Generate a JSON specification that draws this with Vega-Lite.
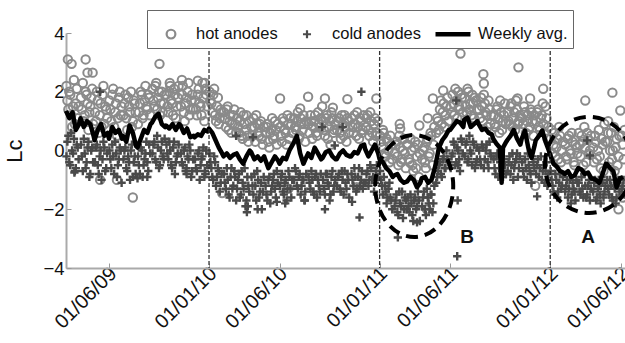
{
"$schema":"https://vega.github.io/schema/vega-lite/v6.json",
"width":559,"height":235,
"autosize":"none",
"padding":{"left":66,"top":33,"right":0,"bottom":75},
"background":"white",
"config":{"font":"Liberation Sans","view":{"stroke":null}},
"datasets":{
"hot":[
{"d":"2009-03-02","v":2.2},{"d":"2009-03-06","v":1.4},{"d":"2009-03-10","v":1.9},{"d":"2009-03-14","v":0.8},{"d":"2009-03-18","v":2.4},{"d":"2009-03-22","v":1.6},{"d":"2009-03-26","v":1.1},
{"d":"2009-04-02","v":1.8},{"d":"2009-04-06","v":2.3},{"d":"2009-04-10","v":1.2},{"d":"2009-04-14","v":1.9},{"d":"2009-04-18","v":0.7},{"d":"2009-04-22","v":1.5},{"d":"2009-04-26","v":2.1},
{"d":"2009-05-02","v":1.3},{"d":"2009-05-06","v":2.0},{"d":"2009-05-10","v":0.6},{"d":"2009-05-14","v":1.6},{"d":"2009-05-18","v":1.9},{"d":"2009-05-22","v":0.9},{"d":"2009-05-26","v":1.4},
{"d":"2009-06-02","v":1.7},{"d":"2009-06-06","v":1.0},{"d":"2009-06-10","v":2.1},{"d":"2009-06-14","v":1.3},{"d":"2009-06-18","v":0.5},{"d":"2009-06-22","v":1.8},{"d":"2009-06-26","v":1.2},
{"d":"2009-07-02","v":1.2},{"d":"2009-07-06","v":1.9},{"d":"2009-07-10","v":0.7},{"d":"2009-07-14","v":1.5},{"d":"2009-07-18","v":2.0},{"d":"2009-07-22","v":1.0},{"d":"2009-07-26","v":1.6},
{"d":"2009-08-02","v":0.9},{"d":"2009-08-06","v":1.6},{"d":"2009-08-10","v":1.9},{"d":"2009-08-14","v":1.2},{"d":"2009-08-18","v":2.2},{"d":"2009-08-22","v":1.4},{"d":"2009-08-26","v":1.8},
{"d":"2009-09-02","v":2.1},{"d":"2009-09-06","v":1.5},{"d":"2009-09-10","v":2.3},{"d":"2009-09-14","v":1.8},{"d":"2009-09-18","v":1.2},{"d":"2009-09-22","v":2.0},{"d":"2009-09-26","v":1.6},
{"d":"2009-10-02","v":1.9},{"d":"2009-10-06","v":1.3},{"d":"2009-10-10","v":2.2},{"d":"2009-10-14","v":1.6},{"d":"2009-10-18","v":2.1},{"d":"2009-10-22","v":1.1},{"d":"2009-10-26","v":1.8},
{"d":"2009-11-02","v":1.5},{"d":"2009-11-06","v":2.2},{"d":"2009-11-10","v":1.0},{"d":"2009-11-14","v":1.8},{"d":"2009-11-18","v":2.3},{"d":"2009-11-22","v":1.4},{"d":"2009-11-26","v":1.9},
{"d":"2009-12-02","v":1.7},{"d":"2009-12-06","v":1.2},{"d":"2009-12-10","v":2.1},{"d":"2009-12-14","v":1.5},{"d":"2009-12-18","v":2.3},{"d":"2009-12-22","v":1.0},{"d":"2009-12-26","v":1.9},
{"d":"2010-01-02","v":2.0},{"d":"2010-01-06","v":1.6},{"d":"2010-01-10","v":1.9},{"d":"2010-01-14","v":1.2},{"d":"2010-01-18","v":1.5},{"d":"2010-01-22","v":0.9},{"d":"2010-01-26","v":1.4},
{"d":"2010-02-02","v":1.3},{"d":"2010-02-06","v":0.8},{"d":"2010-02-10","v":1.5},{"d":"2010-02-14","v":1.0},{"d":"2010-02-18","v":0.6},{"d":"2010-02-22","v":1.2},{"d":"2010-02-26","v":0.9},
{"d":"2010-03-02","v":1.1},{"d":"2010-03-06","v":0.6},{"d":"2010-03-10","v":1.3},{"d":"2010-03-14","v":0.4},{"d":"2010-03-18","v":0.9},{"d":"2010-03-22","v":1.2},{"d":"2010-03-26","v":0.3},
{"d":"2010-04-02","v":0.8},{"d":"2010-04-06","v":1.1},{"d":"2010-04-10","v":0.3},{"d":"2010-04-14","v":0.9},{"d":"2010-04-18","v":0.5},{"d":"2010-04-22","v":1.0},{"d":"2010-04-26","v":0.2},
{"d":"2010-05-02","v":0.6},{"d":"2010-05-06","v":0.9},{"d":"2010-05-10","v":0.1},{"d":"2010-05-14","v":0.7},{"d":"2010-05-18","v":0.4},{"d":"2010-05-22","v":1.0},{"d":"2010-05-26","v":0.2},
{"d":"2010-06-02","v":0.8},{"d":"2010-06-06","v":0.3},{"d":"2010-06-10","v":1.0},{"d":"2010-06-14","v":0.6},{"d":"2010-06-18","v":1.2},{"d":"2010-06-22","v":0.4},{"d":"2010-06-26","v":0.9},
{"d":"2010-07-02","v":1.1},{"d":"2010-07-06","v":0.7},{"d":"2010-07-10","v":1.3},{"d":"2010-07-14","v":0.5},{"d":"2010-07-18","v":0.9},{"d":"2010-07-22","v":1.2},{"d":"2010-07-26","v":0.3},
{"d":"2010-08-02","v":0.9},{"d":"2010-08-06","v":1.2},{"d":"2010-08-10","v":0.4},{"d":"2010-08-14","v":1.0},{"d":"2010-08-18","v":0.6},{"d":"2010-08-22","v":1.3},{"d":"2010-08-26","v":0.8},
{"d":"2010-09-02","v":1.0},{"d":"2010-09-06","v":0.5},{"d":"2010-09-10","v":1.2},{"d":"2010-09-14","v":0.8},{"d":"2010-09-18","v":0.2},{"d":"2010-09-22","v":1.1},{"d":"2010-09-26","v":0.7},
{"d":"2010-10-02","v":0.7},{"d":"2010-10-06","v":1.1},{"d":"2010-10-10","v":0.4},{"d":"2010-10-14","v":0.9},{"d":"2010-10-18","v":1.2},{"d":"2010-10-22","v":0.3},{"d":"2010-10-26","v":1.0},
{"d":"2010-11-02","v":1.1},{"d":"2010-11-06","v":0.6},{"d":"2010-11-10","v":0.9},{"d":"2010-11-14","v":1.3},{"d":"2010-11-18","v":0.4},{"d":"2010-11-22","v":1.0},{"d":"2010-11-26","v":0.7},
{"d":"2010-12-02","v":0.8},{"d":"2010-12-06","v":1.2},{"d":"2010-12-10","v":0.5},{"d":"2010-12-14","v":1.0},{"d":"2010-12-18","v":0.3},{"d":"2010-12-22","v":1.1},{"d":"2010-12-26","v":0.6},
{"d":"2011-01-02","v":0.5},{"d":"2011-01-06","v":0.1},{"d":"2011-01-10","v":0.6},{"d":"2011-01-14","v":-0.2},{"d":"2011-01-18","v":0.3},{"d":"2011-01-22","v":-0.4},{"d":"2011-01-26","v":0.2},
{"d":"2011-02-02","v":-0.1},{"d":"2011-02-06","v":0.3},{"d":"2011-02-10","v":-0.5},{"d":"2011-02-14","v":0.1},{"d":"2011-02-18","v":-0.3},{"d":"2011-02-22","v":0.4},{"d":"2011-02-26","v":-0.6},
{"d":"2011-03-02","v":0.2},{"d":"2011-03-06","v":-0.4},{"d":"2011-03-10","v":0.0},{"d":"2011-03-14","v":-0.7},{"d":"2011-03-18","v":0.3},{"d":"2011-03-22","v":-0.2},{"d":"2011-03-26","v":-0.9},
{"d":"2011-04-02","v":-0.3},{"d":"2011-04-06","v":0.1},{"d":"2011-04-10","v":-0.6},{"d":"2011-04-14","v":0.4},{"d":"2011-04-18","v":-0.1},{"d":"2011-04-22","v":0.5},{"d":"2011-04-26","v":0.2},
{"d":"2011-05-02","v":0.6},{"d":"2011-05-06","v":1.0},{"d":"2011-05-10","v":1.4},{"d":"2011-05-14","v":0.9},{"d":"2011-05-18","v":1.6},{"d":"2011-05-22","v":1.2},{"d":"2011-05-26","v":1.8},
{"d":"2011-06-02","v":1.5},{"d":"2011-06-06","v":1.9},{"d":"2011-06-10","v":1.2},{"d":"2011-06-14","v":1.7},{"d":"2011-06-18","v":2.0},{"d":"2011-06-22","v":1.4},{"d":"2011-06-26","v":1.8},
{"d":"2011-07-02","v":1.8},{"d":"2011-07-06","v":1.3},{"d":"2011-07-10","v":2.0},{"d":"2011-07-14","v":1.6},{"d":"2011-07-18","v":1.9},{"d":"2011-07-22","v":1.1},{"d":"2011-07-26","v":1.7},
{"d":"2011-08-02","v":1.4},{"d":"2011-08-06","v":1.8},{"d":"2011-08-10","v":1.0},{"d":"2011-08-14","v":1.6},{"d":"2011-08-18","v":1.2},{"d":"2011-08-22","v":1.7},{"d":"2011-08-26","v":0.9},
{"d":"2011-09-02","v":1.2},{"d":"2011-09-06","v":0.8},{"d":"2011-09-10","v":1.5},{"d":"2011-09-14","v":0.6},{"d":"2011-09-18","v":1.3},{"d":"2011-09-22","v":1.0},{"d":"2011-09-26","v":1.6},
{"d":"2011-10-02","v":1.3},{"d":"2011-10-06","v":0.9},{"d":"2011-10-10","v":1.6},{"d":"2011-10-14","v":1.1},{"d":"2011-10-18","v":0.7},{"d":"2011-10-22","v":1.4},{"d":"2011-10-26","v":1.0},
{"d":"2011-11-02","v":1.1},{"d":"2011-11-06","v":1.5},{"d":"2011-11-10","v":0.6},{"d":"2011-11-14","v":1.2},{"d":"2011-11-18","v":0.8},{"d":"2011-11-22","v":1.3},{"d":"2011-11-26","v":0.5},
{"d":"2011-12-02","v":1.0},{"d":"2011-12-06","v":1.4},{"d":"2011-12-10","v":0.7},{"d":"2011-12-14","v":1.2},{"d":"2011-12-18","v":0.9},{"d":"2011-12-22","v":1.5},{"d":"2011-12-26","v":0.4},
{"d":"2012-01-02","v":0.4},{"d":"2012-01-06","v":-0.1},{"d":"2012-01-10","v":0.6},{"d":"2012-01-14","v":0.1},{"d":"2012-01-18","v":-0.3},{"d":"2012-01-22","v":0.5},{"d":"2012-01-26","v":0.0},
{"d":"2012-02-02","v":0.2},{"d":"2012-02-06","v":-0.3},{"d":"2012-02-10","v":0.5},{"d":"2012-02-14","v":-0.1},{"d":"2012-02-18","v":0.3},{"d":"2012-02-22","v":-0.5},{"d":"2012-02-26","v":0.1},
{"d":"2012-03-02","v":0.6},{"d":"2012-03-06","v":-0.2},{"d":"2012-03-10","v":0.3},{"d":"2012-03-14","v":0.8},{"d":"2012-03-18","v":-0.4},{"d":"2012-03-22","v":0.4},{"d":"2012-03-26","v":0.0},
{"d":"2012-04-02","v":0.1},{"d":"2012-04-06","v":0.5},{"d":"2012-04-10","v":-0.3},{"d":"2012-04-14","v":0.7},{"d":"2012-04-18","v":-0.6},{"d":"2012-04-22","v":0.2},{"d":"2012-04-26","v":0.9},
{"d":"2012-05-02","v":0.3},{"d":"2012-05-06","v":-0.4},{"d":"2012-05-10","v":0.6},{"d":"2012-05-14","v":0.0},{"d":"2012-05-18","v":-0.7},{"d":"2012-05-22","v":0.4},{"d":"2012-05-26","v":-0.2},
{"d":"2012-06-02","v":0.5},{"d":"2012-06-06","v":-0.3},
{"d":"2009-03-04","v":1.7},{"d":"2009-03-08","v":2.0},{"d":"2009-03-12","v":1.2},{"d":"2009-03-16","v":1.5},{"d":"2009-03-20","v":0.9},{"d":"2009-03-24","v":2.1},{"d":"2009-03-28","v":1.5},
{"d":"2009-04-04","v":1.4},{"d":"2009-04-08","v":1.0},{"d":"2009-04-12","v":2.0},{"d":"2009-04-16","v":1.6},{"d":"2009-04-20","v":1.3},{"d":"2009-04-24","v":1.8},{"d":"2009-04-28","v":0.9},
{"d":"2009-05-04","v":1.0},{"d":"2009-05-08","v":1.7},{"d":"2009-05-12","v":1.2},{"d":"2009-05-16","v":0.8},{"d":"2009-05-20","v":2.2},{"d":"2009-05-24","v":1.5},{"d":"2009-05-28","v":1.1},
{"d":"2009-06-04","v":1.4},{"d":"2009-06-08","v":1.9},{"d":"2009-06-12","v":0.8},{"d":"2009-06-16","v":1.6},{"d":"2009-06-20","v":1.1},{"d":"2009-06-24","v":2.0},{"d":"2009-06-28","v":1.5},
{"d":"2009-07-04","v":1.6},{"d":"2009-07-08","v":1.1},{"d":"2009-07-12","v":1.8},{"d":"2009-07-16","v":1.3},{"d":"2009-07-20","v":0.8},{"d":"2009-07-24","v":1.7},{"d":"2009-07-28","v":1.3},
{"d":"2009-08-04","v":1.3},{"d":"2009-08-08","v":2.0},{"d":"2009-08-12","v":1.1},{"d":"2009-08-16","v":1.7},{"d":"2009-08-20","v":1.5},{"d":"2009-08-24","v":1.9},{"d":"2009-08-28","v":1.2},
{"d":"2009-09-04","v":1.7},{"d":"2009-09-08","v":2.2},{"d":"2009-09-12","v":1.4},{"d":"2009-09-16","v":2.0},{"d":"2009-09-20","v":1.6},{"d":"2009-09-24","v":1.3},{"d":"2009-09-28","v":1.9},
{"d":"2009-10-04","v":1.5},{"d":"2009-10-08","v":2.0},{"d":"2009-10-12","v":1.7},{"d":"2009-10-16","v":1.2},{"d":"2009-10-20","v":1.9},{"d":"2009-10-24","v":1.5},{"d":"2009-10-28","v":2.2},
{"d":"2009-11-04","v":1.9},{"d":"2009-11-08","v":1.3},{"d":"2009-11-12","v":1.6},{"d":"2009-11-16","v":2.0},{"d":"2009-11-20","v":1.2},{"d":"2009-11-24","v":1.7},{"d":"2009-11-28","v":1.4},
{"d":"2009-12-04","v":1.4},{"d":"2009-12-08","v":1.9},{"d":"2009-12-12","v":1.6},{"d":"2009-12-16","v":1.2},{"d":"2009-12-20","v":1.8},{"d":"2009-12-24","v":2.1},{"d":"2009-12-28","v":1.5},
{"d":"2010-01-04","v":1.7},{"d":"2010-01-08","v":1.3},{"d":"2010-01-12","v":2.1},{"d":"2010-01-16","v":1.0},{"d":"2010-01-20","v":1.8},{"d":"2010-01-24","v":1.1},{"d":"2010-01-28","v":1.3},
{"d":"2010-02-04","v":1.1},{"d":"2010-02-08","v":1.4},{"d":"2010-02-12","v":0.7},{"d":"2010-02-16","v":1.2},{"d":"2010-02-20","v":0.9},{"d":"2010-02-24","v":1.4},{"d":"2010-02-28","v":0.6},
{"d":"2010-03-04","v":0.8},{"d":"2010-03-08","v":1.0},{"d":"2010-03-12","v":0.5},{"d":"2010-03-16","v":1.2},{"d":"2010-03-20","v":0.7},{"d":"2010-03-24","v":0.5},{"d":"2010-03-28","v":1.0},
{"d":"2010-04-04","v":0.5},{"d":"2010-04-08","v":0.8},{"d":"2010-04-12","v":1.2},{"d":"2010-04-16","v":0.6},{"d":"2010-04-20","v":0.9},{"d":"2010-04-24","v":0.4},{"d":"2010-04-28","v":0.8},
{"d":"2010-05-04","v":0.8},{"d":"2010-05-08","v":0.3},{"d":"2010-05-12","v":0.6},{"d":"2010-05-16","v":1.1},{"d":"2010-05-20","v":0.5},{"d":"2010-05-24","v":0.7},{"d":"2010-05-28","v":0.9},
{"d":"2010-06-04","v":0.5},{"d":"2010-06-08","v":1.1},{"d":"2010-06-12","v":0.7},{"d":"2010-06-16","v":0.2},{"d":"2010-06-20","v":0.9},{"d":"2010-06-24","v":1.1},{"d":"2010-06-28","v":0.6},
{"d":"2010-07-04","v":0.8},{"d":"2010-07-08","v":1.0},{"d":"2010-07-12","v":0.4},{"d":"2010-07-16","v":1.1},{"d":"2010-07-20","v":0.7},{"d":"2010-07-24","v":0.9},{"d":"2010-07-28","v":1.0},
{"d":"2010-08-04","v":0.6},{"d":"2010-08-08","v":1.0},{"d":"2010-08-12","v":0.8},{"d":"2010-08-16","v":1.2},{"d":"2010-08-20","v":0.5},{"d":"2010-08-24","v":0.9},{"d":"2010-08-28","v":1.1},
{"d":"2010-09-04","v":0.7},{"d":"2010-09-08","v":1.1},{"d":"2010-09-12","v":0.4},{"d":"2010-09-16","v":1.0},{"d":"2010-09-20","v":1.3},{"d":"2010-09-24","v":0.6},{"d":"2010-09-28","v":0.9},
{"d":"2010-10-04","v":1.0},{"d":"2010-10-08","v":0.6},{"d":"2010-10-12","v":1.2},{"d":"2010-10-16","v":0.5},{"d":"2010-10-20","v":0.8},{"d":"2010-10-24","v":1.1},{"d":"2010-10-28","v":0.6},
{"d":"2010-11-04","v":0.8},{"d":"2010-11-08","v":1.2},{"d":"2010-11-12","v":0.5},{"d":"2010-11-16","v":0.8},{"d":"2010-11-20","v":1.1},{"d":"2010-11-24","v":0.6},{"d":"2010-11-28","v":1.2},
{"d":"2010-12-04","v":1.1},{"d":"2010-12-08","v":0.7},{"d":"2010-12-12","v":1.3},{"d":"2010-12-16","v":0.6},{"d":"2010-12-20","v":0.9},{"d":"2010-12-24","v":0.5},{"d":"2010-12-28","v":1.0},
{"d":"2011-01-04","v":0.3},{"d":"2011-01-08","v":0.7},{"d":"2011-01-12","v":-0.1},{"d":"2011-01-16","v":0.4},{"d":"2011-01-20","v":0.0},{"d":"2011-01-24","v":0.5},{"d":"2011-01-28","v":-0.3},
{"d":"2011-02-04","v":0.2},{"d":"2011-02-08","v":-0.2},{"d":"2011-02-12","v":0.5},{"d":"2011-02-16","v":-0.4},{"d":"2011-02-20","v":0.0},{"d":"2011-02-24","v":-0.1},{"d":"2011-02-28","v":0.2},
{"d":"2011-03-04","v":-0.3},{"d":"2011-03-08","v":0.4},{"d":"2011-03-12","v":-0.5},{"d":"2011-03-16","v":0.1},{"d":"2011-03-20","v":-0.6},{"d":"2011-03-24","v":0.2},{"d":"2011-03-28","v":-0.1},
{"d":"2011-04-04","v":0.0},{"d":"2011-04-08","v":-0.4},{"d":"2011-04-12","v":0.3},{"d":"2011-04-16","v":-0.2},{"d":"2011-04-20","v":0.6},{"d":"2011-04-24","v":-0.5},{"d":"2011-04-28","v":0.8},
{"d":"2011-05-04","v":1.1},{"d":"2011-05-08","v":0.7},{"d":"2011-05-12","v":1.7},{"d":"2011-05-16","v":1.3},{"d":"2011-05-20","v":0.8},{"d":"2011-05-24","v":1.5},{"d":"2011-05-28","v":1.0},
{"d":"2011-06-04","v":1.3},{"d":"2011-06-08","v":1.6},{"d":"2011-06-12","v":2.1},{"d":"2011-06-16","v":1.1},{"d":"2011-06-20","v":1.5},{"d":"2011-06-24","v":1.9},{"d":"2011-06-28","v":1.3},
{"d":"2011-07-04","v":1.5},{"d":"2011-07-08","v":2.1},{"d":"2011-07-12","v":1.4},{"d":"2011-07-16","v":1.2},{"d":"2011-07-20","v":1.6},{"d":"2011-07-24","v":1.8},{"d":"2011-07-28","v":1.4},
{"d":"2011-08-04","v":1.1},{"d":"2011-08-08","v":1.5},{"d":"2011-08-12","v":1.9},{"d":"2011-08-16","v":1.3},{"d":"2011-08-20","v":0.8},{"d":"2011-08-24","v":1.4},{"d":"2011-08-28","v":1.2},
{"d":"2011-09-04","v":0.9},{"d":"2011-09-08","v":1.4},{"d":"2011-09-12","v":1.1},{"d":"2011-09-16","v":1.7},{"d":"2011-09-20","v":0.7},{"d":"2011-09-24","v":1.2},{"d":"2011-09-28","v":0.9},
{"d":"2011-10-04","v":1.0},{"d":"2011-10-08","v":1.5},{"d":"2011-10-12","v":0.8},{"d":"2011-10-16","v":1.3},{"d":"2011-10-20","v":1.7},{"d":"2011-10-24","v":0.9},{"d":"2011-10-28","v":1.2},
{"d":"2011-11-04","v":0.9},{"d":"2011-11-08","v":1.3},{"d":"2011-11-12","v":1.0},{"d":"2011-11-16","v":0.7},{"d":"2011-11-20","v":1.4},{"d":"2011-11-24","v":1.0},{"d":"2011-11-28","v":1.2},
{"d":"2011-12-04","v":1.3},{"d":"2011-12-08","v":0.8},{"d":"2011-12-12","v":1.1},{"d":"2011-12-16","v":1.6},{"d":"2011-12-20","v":0.6},{"d":"2011-12-24","v":1.1},{"d":"2011-12-28","v":0.8},
{"d":"2012-01-04","v":0.7},{"d":"2012-01-08","v":0.2},{"d":"2012-01-12","v":-0.2},{"d":"2012-01-16","v":0.4},{"d":"2012-01-20","v":0.8},{"d":"2012-01-24","v":-0.4},{"d":"2012-01-28","v":0.3},
{"d":"2012-02-04","v":-0.2},{"d":"2012-02-08","v":0.4},{"d":"2012-02-12","v":0.0},{"d":"2012-02-16","v":0.6},{"d":"2012-02-20","v":-0.4},{"d":"2012-02-24","v":0.2},{"d":"2012-02-28","v":-0.1},
{"d":"2012-03-04","v":0.2},{"d":"2012-03-08","v":0.5},{"d":"2012-03-12","v":-0.5},{"d":"2012-03-16","v":0.1},{"d":"2012-03-20","v":0.6},{"d":"2012-03-24","v":-0.1},{"d":"2012-03-28","v":0.5},
{"d":"2012-04-04","v":-0.4},{"d":"2012-04-08","v":0.3},{"d":"2012-04-12","v":0.0},{"d":"2012-04-16","v":-0.2},{"d":"2012-04-20","v":0.4},{"d":"2012-04-24","v":-0.7},{"d":"2012-04-28","v":0.3},
{"d":"2012-05-04","v":0.6},{"d":"2012-05-08","v":0.0},{"d":"2012-05-12","v":-0.3},{"d":"2012-05-16","v":0.8},{"d":"2012-05-20","v":0.1},{"d":"2012-05-24","v":-0.5},{"d":"2012-05-28","v":0.5},
{"d":"2012-06-04","v":0.2},{"d":"2012-06-08","v":0.7},
{"d":"2009-03-05","v":3.1},{"d":"2009-03-13","v":2.95},{"d":"2009-04-12","v":3.1},{"d":"2009-04-16","v":2.65},{"d":"2009-04-27","v":2.65},{"d":"2009-09-17","v":2.95},{"d":"2009-10-09","v":2.3},{"d":"2009-11-04","v":2.4},{"d":"2009-12-08","v":2.38},{"d":"2009-12-23","v":2.3},
{"d":"2009-05-13","v":-1.0},{"d":"2009-06-18","v":-1.0},{"d":"2009-07-22","v":-1.6},{"d":"2010-01-29","v":-1.45},
{"d":"2010-06-02","v":1.77},{"d":"2010-07-15","v":1.43},{"d":"2010-08-01","v":1.83},{"d":"2010-08-31","v":1.5},{"d":"2010-09-06","v":1.77},{"d":"2010-09-23","v":1.46},{"d":"2010-10-24","v":1.75},{"d":"2010-12-25","v":1.77},
{"d":"2010-06-20","v":-1.3},{"d":"2010-11-13","v":-1.25},
{"d":"2011-02-13","v":0.9},{"d":"2011-02-14","v":0.75},{"d":"2011-03-27","v":0.85},{"d":"2011-04-14","v":1.1},{"d":"2011-04-25","v":1.77},{"d":"2011-05-17","v":2.04},{"d":"2011-06-23","v":3.3},{"d":"2011-08-11","v":2.6},{"d":"2011-08-12","v":2.28},{"d":"2011-10-25","v":2.83},{"d":"2011-10-23","v":1.77},{"d":"2011-11-19","v":1.77},{"d":"2011-12-17","v":2.1},{"d":"2011-11-30","v":-1.2},{"d":"2011-04-12","v":-2.0},
{"d":"2012-03-16","v":1.7},{"d":"2012-05-13","v":1.97},{"d":"2012-05-30","v":1.36},{"d":"2012-05-04","v":1.0},{"d":"2012-05-26","v":-2.0},{"d":"2012-06-04","v":-1.6}
],
"cold":[
{"d":"2009-03-04","v":0.3},{"d":"2009-03-08","v":-0.4},{"d":"2009-03-12","v":0.6},{"d":"2009-03-16","v":-0.1},{"d":"2009-03-20","v":-0.7},{"d":"2009-03-24","v":0.2},{"d":"2009-03-28","v":-0.3},
{"d":"2009-04-04","v":-0.2},{"d":"2009-04-08","v":0.4},{"d":"2009-04-12","v":-0.6},{"d":"2009-04-16","v":0.1},{"d":"2009-04-20","v":-0.9},{"d":"2009-04-24","v":0.0},{"d":"2009-04-28","v":-0.4},
{"d":"2009-05-04","v":0.1},{"d":"2009-05-08","v":-0.5},{"d":"2009-05-12","v":-0.2},{"d":"2009-05-16","v":-1.0},{"d":"2009-05-20","v":0.3},{"d":"2009-05-24","v":-0.7},{"d":"2009-05-28","v":-0.1},
{"d":"2009-06-04","v":-0.3},{"d":"2009-06-08","v":0.2},{"d":"2009-06-12","v":-0.8},{"d":"2009-06-16","v":-0.1},{"d":"2009-06-20","v":-0.5},{"d":"2009-06-24","v":0.1},{"d":"2009-06-28","v":-1.1},
{"d":"2009-07-04","v":0.0},{"d":"2009-07-08","v":-0.6},{"d":"2009-07-12","v":-0.2},{"d":"2009-07-16","v":-1.0},{"d":"2009-07-20","v":0.2},{"d":"2009-07-24","v":-0.4},{"d":"2009-07-28","v":-0.8},
{"d":"2009-08-04","v":-0.5},{"d":"2009-08-08","v":0.1},{"d":"2009-08-12","v":-0.9},{"d":"2009-08-16","v":-0.3},{"d":"2009-08-20","v":0.3},{"d":"2009-08-24","v":-0.7},{"d":"2009-08-28","v":-0.1},
{"d":"2009-09-04","v":0.2},{"d":"2009-09-08","v":-0.3},{"d":"2009-09-12","v":0.5},{"d":"2009-09-16","v":-0.6},{"d":"2009-09-20","v":0.0},{"d":"2009-09-24","v":-0.2},{"d":"2009-09-28","v":0.4},
{"d":"2009-10-04","v":-0.1},{"d":"2009-10-08","v":0.3},{"d":"2009-10-12","v":-0.5},{"d":"2009-10-16","v":0.1},{"d":"2009-10-20","v":-0.8},{"d":"2009-10-24","v":-0.2},{"d":"2009-10-28","v":0.2},
{"d":"2009-11-04","v":-0.4},{"d":"2009-11-08","v":0.0},{"d":"2009-11-12","v":-0.7},{"d":"2009-11-16","v":-0.2},{"d":"2009-11-20","v":0.2},{"d":"2009-11-24","v":-0.9},{"d":"2009-11-28","v":-0.3},
{"d":"2009-12-04","v":-0.6},{"d":"2009-12-08","v":-0.1},{"d":"2009-12-12","v":-1.0},{"d":"2009-12-16","v":-0.3},{"d":"2009-12-20","v":0.1},{"d":"2009-12-24","v":-0.8},{"d":"2009-12-28","v":-0.5},
{"d":"2010-01-04","v":-0.4},{"d":"2010-01-08","v":-0.9},{"d":"2010-01-12","v":-0.2},{"d":"2010-01-16","v":-1.2},{"d":"2010-01-20","v":-0.6},{"d":"2010-01-24","v":-1.4},{"d":"2010-01-28","v":-0.8},
{"d":"2010-02-04","v":-1.1},{"d":"2010-02-08","v":-0.6},{"d":"2010-02-12","v":-1.5},{"d":"2010-02-16","v":-0.9},{"d":"2010-02-20","v":-1.3},{"d":"2010-02-24","v":-0.7},{"d":"2010-02-28","v":-1.7},
{"d":"2010-03-04","v":-1.0},{"d":"2010-03-08","v":-1.6},{"d":"2010-03-12","v":-0.7},{"d":"2010-03-16","v":-1.3},{"d":"2010-03-20","v":-1.9},{"d":"2010-03-24","v":-0.9},{"d":"2010-03-28","v":-1.4},
{"d":"2010-04-04","v":-1.2},{"d":"2010-04-08","v":-0.8},{"d":"2010-04-12","v":-1.7},{"d":"2010-04-16","v":-1.0},{"d":"2010-04-20","v":-1.4},{"d":"2010-04-24","v":-2.0},{"d":"2010-04-28","v":-0.9},
{"d":"2010-05-04","v":-1.5},{"d":"2010-05-08","v":-1.0},{"d":"2010-05-12","v":-1.8},{"d":"2010-05-16","v":-1.2},{"d":"2010-05-20","v":-0.8},{"d":"2010-05-24","v":-1.6},{"d":"2010-05-28","v":-1.1},
{"d":"2010-06-04","v":-0.9},{"d":"2010-06-08","v":-1.4},{"d":"2010-06-12","v":-1.1},{"d":"2010-06-16","v":-1.7},{"d":"2010-06-20","v":-0.7},{"d":"2010-06-24","v":-1.3},{"d":"2010-06-28","v":-1.0},
{"d":"2010-07-04","v":-0.6},{"d":"2010-07-08","v":-1.2},{"d":"2010-07-12","v":-0.9},{"d":"2010-07-16","v":-1.5},{"d":"2010-07-20","v":-1.0},{"d":"2010-07-24","v":-1.7},{"d":"2010-07-28","v":-0.8},
{"d":"2010-08-04","v":-1.1},{"d":"2010-08-08","v":-0.7},{"d":"2010-08-12","v":-1.4},{"d":"2010-08-16","v":-0.9},{"d":"2010-08-20","v":-1.6},{"d":"2010-08-24","v":-1.2},{"d":"2010-08-28","v":-0.8},
{"d":"2010-09-04","v":-1.3},{"d":"2010-09-08","v":-0.8},{"d":"2010-09-12","v":-1.1},{"d":"2010-09-16","v":-1.7},{"d":"2010-09-20","v":-0.9},{"d":"2010-09-24","v":-1.4},{"d":"2010-09-28","v":-1.0},
{"d":"2010-10-04","v":-0.9},{"d":"2010-10-08","v":-1.3},{"d":"2010-10-12","v":-0.7},{"d":"2010-10-16","v":-1.5},{"d":"2010-10-20","v":-1.1},{"d":"2010-10-24","v":-0.8},{"d":"2010-10-28","v":-1.6},
{"d":"2010-11-04","v":-1.0},{"d":"2010-11-08","v":-0.6},{"d":"2010-11-12","v":-1.4},{"d":"2010-11-16","v":-0.9},{"d":"2010-11-20","v":-1.2},{"d":"2010-11-24","v":-0.7},{"d":"2010-11-28","v":-1.1},
{"d":"2010-12-04","v":-0.8},{"d":"2010-12-08","v":-1.2},{"d":"2010-12-12","v":-0.5},{"d":"2010-12-16","v":-1.0},{"d":"2010-12-20","v":-1.4},{"d":"2010-12-24","v":-0.7},{"d":"2010-12-28","v":-0.9},
{"d":"2011-01-04","v":-1.0},{"d":"2011-01-08","v":-1.5},{"d":"2011-01-12","v":-1.2},{"d":"2011-01-16","v":-1.8},{"d":"2011-01-20","v":-1.3},{"d":"2011-01-24","v":-1.6},{"d":"2011-01-28","v":-2.0},
{"d":"2011-02-04","v":-1.7},{"d":"2011-02-08","v":-2.1},{"d":"2011-02-12","v":-1.4},{"d":"2011-02-16","v":-1.9},{"d":"2011-02-20","v":-2.3},{"d":"2011-02-24","v":-1.6},{"d":"2011-02-28","v":-2.0},
{"d":"2011-03-04","v":-1.9},{"d":"2011-03-08","v":-1.5},{"d":"2011-03-12","v":-2.2},{"d":"2011-03-16","v":-1.7},{"d":"2011-03-20","v":-2.0},{"d":"2011-03-24","v":-1.4},{"d":"2011-03-28","v":-2.4},
{"d":"2011-04-04","v":-1.6},{"d":"2011-04-08","v":-2.0},{"d":"2011-04-12","v":-1.3},{"d":"2011-04-16","v":-1.8},{"d":"2011-04-20","v":-1.5},{"d":"2011-04-24","v":-2.1},{"d":"2011-04-28","v":-1.2},
{"d":"2011-05-04","v":-0.9},{"d":"2011-05-08","v":-0.5},{"d":"2011-05-12","v":-0.8},{"d":"2011-05-16","v":-0.3},{"d":"2011-05-20","v":-0.6},{"d":"2011-05-24","v":0.0},{"d":"2011-05-28","v":-0.4},
{"d":"2011-06-04","v":-0.2},{"d":"2011-06-08","v":0.3},{"d":"2011-06-12","v":-0.5},{"d":"2011-06-16","v":0.1},{"d":"2011-06-20","v":-0.3},{"d":"2011-06-24","v":0.4},{"d":"2011-06-28","v":-0.1},
{"d":"2011-07-04","v":0.2},{"d":"2011-07-08","v":-0.4},{"d":"2011-07-12","v":0.5},{"d":"2011-07-16","v":-0.1},{"d":"2011-07-20","v":0.3},{"d":"2011-07-24","v":-0.6},{"d":"2011-07-28","v":0.1},
{"d":"2011-08-04","v":-0.3},{"d":"2011-08-08","v":0.2},{"d":"2011-08-12","v":-0.6},{"d":"2011-08-16","v":0.0},{"d":"2011-08-20","v":-0.4},{"d":"2011-08-24","v":0.3},{"d":"2011-08-28","v":-0.2},
{"d":"2011-09-04","v":-0.6},{"d":"2011-09-08","v":-0.2},{"d":"2011-09-12","v":-0.9},{"d":"2011-09-16","v":-0.4},{"d":"2011-09-20","v":-0.7},{"d":"2011-09-24","v":-0.3},{"d":"2011-09-28","v":-0.8},
{"d":"2011-10-04","v":-0.4},{"d":"2011-10-08","v":-0.8},{"d":"2011-10-12","v":-0.1},{"d":"2011-10-16","v":-0.6},{"d":"2011-10-20","v":-0.3},{"d":"2011-10-24","v":-0.9},{"d":"2011-10-28","v":-0.2},
{"d":"2011-11-04","v":-0.7},{"d":"2011-11-08","v":-0.3},{"d":"2011-11-12","v":-1.0},{"d":"2011-11-16","v":-0.5},{"d":"2011-11-20","v":-0.8},{"d":"2011-11-24","v":-0.2},{"d":"2011-11-28","v":-0.6},
{"d":"2011-12-04","v":-0.5},{"d":"2011-12-08","v":-0.9},{"d":"2011-12-12","v":-0.2},{"d":"2011-12-16","v":-0.7},{"d":"2011-12-20","v":-1.1},{"d":"2011-12-24","v":-0.4},{"d":"2011-12-28","v":-0.8},
{"d":"2012-01-04","v":-1.0},{"d":"2012-01-08","v":-1.4},{"d":"2012-01-12","v":-0.8},{"d":"2012-01-16","v":-1.6},{"d":"2012-01-20","v":-1.1},{"d":"2012-01-24","v":-1.3},{"d":"2012-01-28","v":-0.9},
{"d":"2012-02-04","v":-1.2},{"d":"2012-02-08","v":-1.6},{"d":"2012-02-12","v":-1.0},{"d":"2012-02-16","v":-1.5},{"d":"2012-02-20","v":-1.3},{"d":"2012-02-24","v":-1.7},{"d":"2012-02-28","v":-1.1},
{"d":"2012-03-04","v":-1.4},{"d":"2012-03-08","v":-0.9},{"d":"2012-03-12","v":-1.6},{"d":"2012-03-16","v":-1.2},{"d":"2012-03-20","v":-1.5},{"d":"2012-03-24","v":-1.0},{"d":"2012-03-28","v":-1.3},
{"d":"2012-04-04","v":-1.1},{"d":"2012-04-08","v":-1.7},{"d":"2012-04-12","v":-1.3},{"d":"2012-04-16","v":-1.5},{"d":"2012-04-20","v":-0.9},{"d":"2012-04-24","v":-1.6},{"d":"2012-04-28","v":-1.2},
{"d":"2012-05-04","v":-1.3},{"d":"2012-05-08","v":-1.0},{"d":"2012-05-12","v":-1.6},{"d":"2012-05-16","v":-1.2},{"d":"2012-05-20","v":-1.8},{"d":"2012-05-24","v":-1.1},{"d":"2012-05-28","v":-1.4},
{"d":"2012-06-04","v":-1.2},{"d":"2012-06-08","v":-1.5},
{"d":"2009-03-02","v":-0.2},{"d":"2009-03-06","v":0.5},{"d":"2009-03-10","v":-0.5},{"d":"2009-03-14","v":0.0},{"d":"2009-03-18","v":0.4},{"d":"2009-03-22","v":-0.6},{"d":"2009-03-26","v":0.1},
{"d":"2009-04-02","v":0.2},{"d":"2009-04-06","v":-0.7},{"d":"2009-04-10","v":-0.1},{"d":"2009-04-14","v":-0.4},{"d":"2009-04-18","v":0.3},{"d":"2009-04-22","v":-0.8},{"d":"2009-04-26","v":0.1},
{"d":"2009-05-02","v":-0.4},{"d":"2009-05-06","v":0.2},{"d":"2009-05-10","v":-0.8},{"d":"2009-05-14","v":0.0},{"d":"2009-05-18","v":-0.3},{"d":"2009-05-22","v":0.1},{"d":"2009-05-26","v":-0.6},
{"d":"2009-06-02","v":0.0},{"d":"2009-06-06","v":-0.6},{"d":"2009-06-10","v":-0.2},{"d":"2009-06-14","v":0.3},{"d":"2009-06-18","v":-0.9},{"d":"2009-06-22","v":-0.3},{"d":"2009-06-26","v":0.0},
{"d":"2009-07-02","v":-0.3},{"d":"2009-07-06","v":0.1},{"d":"2009-07-10","v":-0.7},{"d":"2009-07-14","v":-0.4},{"d":"2009-07-18","v":0.0},{"d":"2009-07-22","v":-0.9},{"d":"2009-07-26","v":-0.2},
{"d":"2009-08-02","v":-0.2},{"d":"2009-08-06","v":-0.8},{"d":"2009-08-10","v":0.0},{"d":"2009-08-14","v":-0.5},{"d":"2009-08-18","v":-0.1},{"d":"2009-08-22","v":-0.4},{"d":"2009-08-26","v":0.2},
{"d":"2009-09-02","v":-0.1},{"d":"2009-09-06","v":0.3},{"d":"2009-09-10","v":-0.4},{"d":"2009-09-14","v":0.1},{"d":"2009-09-18","v":-0.5},{"d":"2009-09-22","v":0.3},{"d":"2009-09-26","v":-0.3},
{"d":"2009-10-02","v":0.2},{"d":"2009-10-06","v":-0.3},{"d":"2009-10-10","v":0.0},{"d":"2009-10-14","v":-0.6},{"d":"2009-10-18","v":0.3},{"d":"2009-10-22","v":-0.4},{"d":"2009-10-26","v":-0.1},
{"d":"2009-11-02","v":-0.1},{"d":"2009-11-06","v":-0.5},{"d":"2009-11-10","v":0.1},{"d":"2009-11-14","v":-0.6},{"d":"2009-11-18","v":-0.3},{"d":"2009-11-22","v":0.0},{"d":"2009-11-26","v":-0.7},
{"d":"2009-12-02","v":-0.3},{"d":"2009-12-06","v":-0.7},{"d":"2009-12-10","v":0.0},{"d":"2009-12-14","v":-0.5},{"d":"2009-12-18","v":-0.2},{"d":"2009-12-22","v":-0.9},{"d":"2009-12-26","v":0.0},
{"d":"2010-01-02","v":-0.1},{"d":"2010-01-06","v":-0.6},{"d":"2010-01-10","v":-1.0},{"d":"2010-01-14","v":-0.4},{"d":"2010-01-18","v":-0.9},{"d":"2010-01-22","v":-0.7},{"d":"2010-01-26","v":-1.1},
{"d":"2010-02-02","v":-0.8},{"d":"2010-02-06","v":-1.3},{"d":"2010-02-10","v":-1.0},{"d":"2010-02-14","v":-1.6},{"d":"2010-02-18","v":-0.6},{"d":"2010-02-22","v":-1.2},{"d":"2010-02-26","v":-0.9},
{"d":"2010-03-02","v":-1.3},{"d":"2010-03-06","v":-0.8},{"d":"2010-03-10","v":-1.5},{"d":"2010-03-14","v":-1.1},{"d":"2010-03-18","v":-0.6},{"d":"2010-03-22","v":-1.7},{"d":"2010-03-26","v":-1.2},
{"d":"2010-04-02","v":-0.9},{"d":"2010-04-06","v":-1.5},{"d":"2010-04-10","v":-1.2},{"d":"2010-04-14","v":-0.7},{"d":"2010-04-18","v":-1.6},{"d":"2010-04-22","v":-1.1},{"d":"2010-04-26","v":-1.4},
{"d":"2010-05-02","v":-1.2},{"d":"2010-05-06","v":-1.7},{"d":"2010-05-10","v":-0.9},{"d":"2010-05-14","v":-1.4},{"d":"2010-05-18","v":-1.0},{"d":"2010-05-22","v":-1.3},{"d":"2010-05-26","v":-0.7},
{"d":"2010-06-02","v":-1.2},{"d":"2010-06-06","v":-0.8},{"d":"2010-06-10","v":-1.5},{"d":"2010-06-14","v":-1.0},{"d":"2010-06-18","v":-1.3},{"d":"2010-06-22","v":-0.9},{"d":"2010-06-26","v":-1.6},
{"d":"2010-07-02","v":-1.0},{"d":"2010-07-06","v":-0.7},{"d":"2010-07-10","v":-1.3},{"d":"2010-07-14","v":-0.8},{"d":"2010-07-18","v":-1.2},{"d":"2010-07-22","v":-1.0},{"d":"2010-07-26","v":-1.4},
{"d":"2010-08-02","v":-0.9},{"d":"2010-08-06","v":-1.3},{"d":"2010-08-10","v":-1.0},{"d":"2010-08-14","v":-1.5},{"d":"2010-08-18","v":-0.8},{"d":"2010-08-22","v":-1.0},{"d":"2010-08-26","v":-1.4},
{"d":"2010-09-02","v":-1.0},{"d":"2010-09-06","v":-1.5},{"d":"2010-09-10","v":-0.8},{"d":"2010-09-14","v":-1.2},{"d":"2010-09-18","v":-1.5},{"d":"2010-09-22","v":-0.7},{"d":"2010-09-26","v":-1.2},
{"d":"2010-10-02","v":-1.2},{"d":"2010-10-06","v":-0.8},{"d":"2010-10-10","v":-1.4},{"d":"2010-10-14","v":-1.0},{"d":"2010-10-18","v":-0.7},{"d":"2010-10-22","v":-1.3},{"d":"2010-10-26","v":-1.0},
{"d":"2010-11-02","v":-0.8},{"d":"2010-11-06","v":-1.2},{"d":"2010-11-10","v":-0.9},{"d":"2010-11-14","v":-1.3},{"d":"2010-11-18","v":-0.6},{"d":"2010-11-22","v":-1.0},{"d":"2010-11-26","v":-1.3},
{"d":"2010-12-02","v":-1.1},{"d":"2010-12-06","v":-0.7},{"d":"2010-12-10","v":-1.0},{"d":"2010-12-14","v":-0.6},{"d":"2010-12-18","v":-0.9},{"d":"2010-12-22","v":-1.1},{"d":"2010-12-26","v":-0.5},
{"d":"2011-01-02","v":-0.7},{"d":"2011-01-06","v":-1.2},{"d":"2011-01-10","v":-0.9},{"d":"2011-01-14","v":-1.4},{"d":"2011-01-18","v":-1.6},{"d":"2011-01-22","v":-1.1},{"d":"2011-01-26","v":-1.7},
{"d":"2011-02-02","v":-1.9},{"d":"2011-02-06","v":-1.5},{"d":"2011-02-10","v":-2.2},{"d":"2011-02-14","v":-1.8},{"d":"2011-02-18","v":-1.4},{"d":"2011-02-22","v":-2.0},{"d":"2011-02-26","v":-1.7},
{"d":"2011-03-02","v":-1.6},{"d":"2011-03-06","v":-2.1},{"d":"2011-03-10","v":-1.8},{"d":"2011-03-14","v":-2.4},{"d":"2011-03-18","v":-1.6},{"d":"2011-03-22","v":-1.9},{"d":"2011-03-26","v":-1.7},
{"d":"2011-04-02","v":-1.9},{"d":"2011-04-06","v":-1.4},{"d":"2011-04-10","v":-2.2},{"d":"2011-04-14","v":-1.6},{"d":"2011-04-18","v":-2.0},{"d":"2011-04-22","v":-1.5},{"d":"2011-04-26","v":-1.8},
{"d":"2011-05-02","v":-1.1},{"d":"2011-05-06","v":-0.7},{"d":"2011-05-10","v":-0.4},{"d":"2011-05-14","v":-0.9},{"d":"2011-05-18","v":-0.2},{"d":"2011-05-22","v":-0.6},{"d":"2011-05-26","v":-0.3},
{"d":"2011-06-02","v":-0.6},{"d":"2011-06-06","v":-0.1},{"d":"2011-06-10","v":0.2},{"d":"2011-06-14","v":-0.4},{"d":"2011-06-18","v":0.0},{"d":"2011-06-22","v":-0.7},{"d":"2011-06-26","v":0.3},
{"d":"2011-07-02","v":-0.2},{"d":"2011-07-06","v":0.3},{"d":"2011-07-10","v":-0.3},{"d":"2011-07-14","v":0.0},{"d":"2011-07-18","v":-0.5},{"d":"2011-07-22","v":0.2},{"d":"2011-07-26","v":-0.4},
{"d":"2011-08-02","v":0.0},{"d":"2011-08-06","v":-0.5},{"d":"2011-08-10","v":0.1},{"d":"2011-08-14","v":-0.3},{"d":"2011-08-18","v":0.2},{"d":"2011-08-22","v":-0.6},{"d":"2011-08-26","v":-0.1},
{"d":"2011-09-02","v":-0.3},{"d":"2011-09-06","v":-0.8},{"d":"2011-09-10","v":-0.1},{"d":"2011-09-14","v":-0.6},{"d":"2011-09-18","v":-0.2},{"d":"2011-09-22","v":-0.9},{"d":"2011-09-26","v":-0.5},
{"d":"2011-10-02","v":-0.7},{"d":"2011-10-06","v":-0.2},{"d":"2011-10-10","v":-0.5},{"d":"2011-10-14","v":-1.0},{"d":"2011-10-18","v":-0.4},{"d":"2011-10-22","v":-0.1},{"d":"2011-10-26","v":-0.6},
{"d":"2011-11-02","v":-0.4},{"d":"2011-11-06","v":-0.9},{"d":"2011-11-10","v":-0.6},{"d":"2011-11-14","v":-0.1},{"d":"2011-11-18","v":-0.7},{"d":"2011-11-22","v":-1.1},{"d":"2011-11-26","v":-0.4},
{"d":"2011-12-02","v":-0.8},{"d":"2011-12-06","v":-0.3},{"d":"2011-12-10","v":-0.6},{"d":"2011-12-14","v":-1.0},{"d":"2011-12-18","v":-0.5},{"d":"2011-12-22","v":-0.7},{"d":"2011-12-26","v":-1.2},
{"d":"2012-01-02","v":-0.7},{"d":"2012-01-06","v":-1.2},{"d":"2012-01-10","v":-1.5},{"d":"2012-01-14","v":-1.0},{"d":"2012-01-18","v":-1.4},{"d":"2012-01-22","v":-0.8},{"d":"2012-01-26","v":-1.2},
{"d":"2012-02-02","v":-1.4},{"d":"2012-02-06","v":-1.0},{"d":"2012-02-10","v":-1.3},{"d":"2012-02-14","v":-1.8},{"d":"2012-02-18","v":-1.1},{"d":"2012-02-22","v":-1.4},{"d":"2012-02-26","v":-1.0},
{"d":"2012-03-02","v":-1.1},{"d":"2012-03-06","v":-1.5},{"d":"2012-03-10","v":-1.3},{"d":"2012-03-14","v":-0.8},{"d":"2012-03-18","v":-1.6},{"d":"2012-03-22","v":-1.2},{"d":"2012-03-26","v":-1.7},
{"d":"2012-04-02","v":-1.4},{"d":"2012-04-06","v":-1.0},{"d":"2012-04-10","v":-1.6},{"d":"2012-04-14","v":-1.2},{"d":"2012-04-18","v":-1.8},{"d":"2012-04-22","v":-1.1},{"d":"2012-04-26","v":-1.4},
{"d":"2012-05-02","v":-1.0},{"d":"2012-05-06","v":-1.5},{"d":"2012-05-10","v":-1.2},{"d":"2012-05-14","v":-1.7},{"d":"2012-05-18","v":-1.3},{"d":"2012-05-22","v":-1.6},{"d":"2012-05-26","v":-1.0},
{"d":"2012-06-02","v":-1.3},{"d":"2012-06-06","v":-1.0},
{"d":"2009-05-13","v":2.0},{"d":"2009-08-01","v":-0.95},{"d":"2009-08-22","v":-0.9},{"d":"2009-11-14","v":-0.8},{"d":"2009-12-23","v":-0.7},{"d":"2009-03-19","v":-0.75},
{"d":"2010-03-23","v":-2.1},{"d":"2010-03-25","v":-1.9},{"d":"2010-04-15","v":-2.0},{"d":"2010-05-26","v":-1.75},{"d":"2010-07-25","v":-1.7},{"d":"2010-09-06","v":-2.0},{"d":"2010-11-03","v":-1.75},{"d":"2010-11-19","v":-2.28},{"d":"2010-11-23","v":2.0},{"d":"2010-10-14","v":0.8},{"d":"2010-08-31","v":0.8},{"d":"2010-02-28","v":0.5},{"d":"2010-04-05","v":0.45},{"d":"2010-06-13","v":-1.8},{"d":"2010-09-27","v":0.17},
{"d":"2011-06-16","v":-3.6},{"d":"2011-02-09","v":-2.96},{"d":"2011-03-22","v":-2.45},{"d":"2011-06-17","v":-1.7},{"d":"2011-06-14","v":1.7},{"d":"2011-06-18","v":-0.5},{"d":"2011-07-28","v":-0.3},{"d":"2011-12-04","v":-1.56},
{"d":"2012-03-20","v":0.34},{"d":"2012-03-26","v":-0.17}
],
"avg":[
{"d":"2009-03-01","v":1.35},{"d":"2009-03-08","v":1.1},{"d":"2009-03-15","v":1.3},{"d":"2009-03-22","v":0.7},{"d":"2009-03-29","v":0.9},
{"d":"2009-04-01","v":1.1},{"d":"2009-04-08","v":0.8},{"d":"2009-04-15","v":1.0},{"d":"2009-04-22","v":0.9},{"d":"2009-04-29","v":0.5},
{"d":"2009-05-01","v":0.35},{"d":"2009-05-08","v":0.7},{"d":"2009-05-15","v":0.9},{"d":"2009-05-22","v":0.5},{"d":"2009-05-29","v":0.6},
{"d":"2009-06-01","v":0.4},{"d":"2009-06-08","v":0.8},{"d":"2009-06-15","v":0.6},{"d":"2009-06-22","v":0.7},{"d":"2009-06-29","v":0.4},
{"d":"2009-07-01","v":0.5},{"d":"2009-07-08","v":0.3},{"d":"2009-07-15","v":0.85},{"d":"2009-07-22","v":0.6},{"d":"2009-07-29","v":0.15},
{"d":"2009-08-01","v":0.1},{"d":"2009-08-08","v":0.4},{"d":"2009-08-15","v":0.7},{"d":"2009-08-22","v":0.6},{"d":"2009-08-29","v":0.9},
{"d":"2009-09-01","v":0.95},{"d":"2009-09-08","v":1.15},{"d":"2009-09-15","v":1.25},{"d":"2009-09-22","v":0.9},{"d":"2009-09-29","v":0.8},
{"d":"2009-10-01","v":0.85},{"d":"2009-10-08","v":0.75},{"d":"2009-10-15","v":0.9},{"d":"2009-10-22","v":0.7},{"d":"2009-10-29","v":0.9},
{"d":"2009-11-01","v":0.85},{"d":"2009-11-08","v":0.6},{"d":"2009-11-15","v":0.75},{"d":"2009-11-22","v":0.45},{"d":"2009-11-29","v":0.5},
{"d":"2009-12-01","v":0.45},{"d":"2009-12-08","v":0.55},{"d":"2009-12-15","v":0.5},{"d":"2009-12-22","v":0.7},{"d":"2009-12-29","v":0.65},
{"d":"2010-01-01","v":0.75},{"d":"2010-01-08","v":0.6},{"d":"2010-01-15","v":0.35},{"d":"2010-01-22","v":0.1},{"d":"2010-01-29","v":-0.1},
{"d":"2010-02-01","v":-0.2},{"d":"2010-02-08","v":-0.1},{"d":"2010-02-15","v":-0.25},{"d":"2010-02-22","v":-0.15},
{"d":"2010-03-01","v":-0.1},{"d":"2010-03-08","v":-0.3},{"d":"2010-03-15","v":-0.45},{"d":"2010-03-22","v":-0.2},{"d":"2010-03-29","v":0.0},
{"d":"2010-04-01","v":-0.05},{"d":"2010-04-08","v":-0.3},{"d":"2010-04-15","v":-0.2},{"d":"2010-04-22","v":-0.35},{"d":"2010-04-29","v":-0.2},
{"d":"2010-05-01","v":-0.3},{"d":"2010-05-08","v":-0.6},{"d":"2010-05-15","v":-0.4},{"d":"2010-05-22","v":-0.2},{"d":"2010-05-29","v":-0.35},
{"d":"2010-06-01","v":-0.45},{"d":"2010-06-08","v":-0.25},{"d":"2010-06-15","v":-0.3},{"d":"2010-06-22","v":0.0},{"d":"2010-06-29","v":0.2},
{"d":"2010-07-01","v":0.25},{"d":"2010-07-08","v":0.5},{"d":"2010-07-15","v":-0.1},{"d":"2010-07-22","v":-0.45},{"d":"2010-07-29","v":-0.2},
{"d":"2010-08-01","v":-0.1},{"d":"2010-08-08","v":-0.25},{"d":"2010-08-15","v":0.1},{"d":"2010-08-22","v":-0.1},{"d":"2010-08-29","v":-0.3},
{"d":"2010-09-01","v":-0.25},{"d":"2010-09-08","v":-0.05},{"d":"2010-09-15","v":0.0},{"d":"2010-09-22","v":-0.2},{"d":"2010-09-29","v":-0.3},
{"d":"2010-10-01","v":-0.3},{"d":"2010-10-08","v":-0.1},{"d":"2010-10-15","v":0.0},{"d":"2010-10-22","v":-0.15},{"d":"2010-10-29","v":-0.2},
{"d":"2010-11-01","v":-0.2},{"d":"2010-11-08","v":-0.05},{"d":"2010-11-15","v":-0.1},{"d":"2010-11-22","v":0.15},{"d":"2010-11-29","v":0.2},
{"d":"2010-12-01","v":0.05},{"d":"2010-12-08","v":-0.2},{"d":"2010-12-15","v":0.0},{"d":"2010-12-22","v":0.2},{"d":"2010-12-29","v":-0.1},
{"d":"2011-01-01","v":-0.3},{"d":"2011-01-08","v":-0.4},{"d":"2011-01-15","v":-0.6},{"d":"2011-01-22","v":-0.7},{"d":"2011-01-29","v":-0.9},
{"d":"2011-02-01","v":-0.85},{"d":"2011-02-08","v":-0.8},{"d":"2011-02-15","v":-1.0},{"d":"2011-02-22","v":-1.1},
{"d":"2011-03-01","v":-1.05},{"d":"2011-03-08","v":-0.9},{"d":"2011-03-15","v":-1.0},{"d":"2011-03-22","v":-1.25},{"d":"2011-03-29","v":-1.1},
{"d":"2011-04-01","v":-0.95},{"d":"2011-04-08","v":-0.9},{"d":"2011-04-15","v":-1.1},{"d":"2011-04-22","v":-1.0},{"d":"2011-04-29","v":-0.6},
{"d":"2011-05-01","v":-0.45},{"d":"2011-05-08","v":0.1},{"d":"2011-05-15","v":0.35},{"d":"2011-05-22","v":0.5},{"d":"2011-05-29","v":0.7},
{"d":"2011-06-01","v":0.7},{"d":"2011-06-08","v":0.85},{"d":"2011-06-15","v":1.0},{"d":"2011-06-22","v":0.95},{"d":"2011-06-29","v":0.8},
{"d":"2011-07-01","v":1.05},{"d":"2011-07-08","v":1.12},{"d":"2011-07-15","v":0.8},{"d":"2011-07-22","v":0.9},{"d":"2011-07-29","v":1.0},
{"d":"2011-08-01","v":0.9},{"d":"2011-08-08","v":0.7},{"d":"2011-08-15","v":0.75},{"d":"2011-08-22","v":0.6},{"d":"2011-08-29","v":0.55},
{"d":"2011-09-01","v":0.4},{"d":"2011-09-08","v":0.23},{"d":"2011-09-15","v":0.1},{"d":"2011-09-19","v":-1.1},{"d":"2011-09-22","v":0.1},{"d":"2011-09-29","v":0.3},
{"d":"2011-10-01","v":0.35},{"d":"2011-10-08","v":0.5},{"d":"2011-10-15","v":0.7},{"d":"2011-10-22","v":0.4},{"d":"2011-10-29","v":0.2},
{"d":"2011-11-01","v":0.4},{"d":"2011-11-08","v":0.68},{"d":"2011-11-15","v":0.1},{"d":"2011-11-22","v":-0.25},{"d":"2011-11-29","v":0.2},
{"d":"2011-12-01","v":0.35},{"d":"2011-12-08","v":0.5},{"d":"2011-12-15","v":0.68},{"d":"2011-12-22","v":0.3},{"d":"2011-12-29","v":0.0},
{"d":"2012-01-01","v":-0.15},{"d":"2012-01-08","v":-0.45},{"d":"2012-01-15","v":-0.55},{"d":"2012-01-22","v":-0.7},{"d":"2012-01-29","v":-0.75},
{"d":"2012-02-01","v":-0.8},{"d":"2012-02-08","v":-0.7},{"d":"2012-02-15","v":-0.9},{"d":"2012-02-22","v":-0.85},
{"d":"2012-03-01","v":-0.6},{"d":"2012-03-08","v":-0.65},{"d":"2012-03-15","v":-0.8},{"d":"2012-03-22","v":-0.75},{"d":"2012-03-29","v":-0.95},
{"d":"2012-04-01","v":-0.95},{"d":"2012-04-08","v":-1.0},{"d":"2012-04-15","v":-1.1},{"d":"2012-04-22","v":-0.8},{"d":"2012-04-29","v":-0.45},
{"d":"2012-05-01","v":-0.45},{"d":"2012-05-08","v":-0.6},{"d":"2012-05-15","v":-0.7},{"d":"2012-05-22","v":-1.25},{"d":"2012-05-29","v":-0.95},
{"d":"2012-06-05","v":-0.9}
],
"rules":[{"d":"2010-01-01"},{"d":"2011-01-01"},{"d":"2012-01-01"}],
"rings":[{"d":"2011-03-16","v":-1.21,"k":"B"},{"d":"2012-03-24","v":-0.49,"k":"A"}],
"tags":[{"d":"2011-07-07","v":-2.94,"t":"B"},{"d":"2012-03-22","v":-2.94,"t":"A"}]
},
"layer":[
{"data":{"name":"hot"},
 "mark":{"type":"point","filled":false,"strokeWidth":2,"size":1130,"opacity":1},
 "encoding":{
  "x":{"field":"d","type":"temporal","scale":{"domain":[{"year":2009,"month":3,"date":1},{"year":2012,"month":6,"date":9}]},
   "axis":{"title":null,"grid":false,"values":[{"year":2009,"month":6,"date":1},{"year":2010,"month":1,"date":1},{"year":2010,"month":6,"date":1},{"year":2011,"month":1,"date":1},{"year":2011,"month":6,"date":1},{"year":2012,"month":1,"date":1},{"year":2012,"month":6,"date":1}],
    "format":"%d/%m/%y","labelAngle":-45,"labelFontSize":20,"labelColor":"#111","labelFont":"Liberation Sans","domainColor":"#aaa","domainWidth":2,"tickColor":"#999","tickSize":-5,"tickWidth":1,"labelPadding":0,"labelOffset":-3,"labelOverlap":false,"labelFlush":false,"labelBound":false}},
  "y":{"field":"v","type":"quantitative","scale":{"domain":[-4,4]},
   "axis":{"title":"Lᴄ","titleFontSize":22,"titleFontWeight":"normal","titleColor":"#111","titleFont":"Liberation Sans","titlePadding":16,"grid":false,"values":[-4,-2,0,2,4],"labelFontSize":18.5,"labelColor":"#111","labelFont":"Liberation Sans","domainColor":"#aaa","domainWidth":2,"tickColor":"#999","tickSize":-5,"tickWidth":1,"labelPadding":7}},
  "color":{"datum":"hot anodes","scale":{"domain":["hot anodes","cold anodes","Weekly avg."],"range":["#8a8a8a","#4a4a4a","#000000"]},
   "legend":{"title":null,"orient":"none","legendX":81,"legendY":-23,"direction":"horizontal","labelFontSize":16.5,"labelFont":"Liberation Sans","labelColor":"#111","strokeColor":"#666","fillColor":"white","padding":5,"columnPadding":10,"labelOffset":6,"symbolSize":1225,"symbolStrokeWidth":2.2,"symbolFillColor":"transparent","zindex":2}},
  "shape":{"datum":"hot anodes","scale":{"domain":["hot anodes","cold anodes","Weekly avg."],"range":["M-0.25,0A0.25,0.25,0,1,1,0.25,0A0.25,0.25,0,1,1,-0.25,0Z","M-0.23,0H0.23M0,-0.23V0.23","M-1,-0.06H1M-1,0.06H1"]}}
 }},
{"data":{"name":"cold"},
 "mark":{"type":"point","filled":false,"strokeWidth":2.4,"size":1300,"opacity":1},
 "encoding":{"x":{"field":"d","type":"temporal"},"y":{"field":"v","type":"quantitative"},"color":{"datum":"cold anodes"},"shape":{"datum":"cold anodes"}}},
{"data":{"name":"avg"},
 "mark":{"type":"line","strokeWidth":4.5,"strokeJoin":"round"},
 "encoding":{"x":{"field":"d","type":"temporal"},"y":{"field":"v","type":"quantitative"},"color":{"datum":"Weekly avg."}}},
{"data":{"name":"rules"},
 "mark":{"type":"rule","color":"#333","strokeWidth":1.3,"strokeDash":[4,2]},
 "encoding":{"x":{"field":"d","type":"temporal"}}},
{"data":{"name":"rings"},"transform":[{"filter":{"field":"k","equal":"B"}}],
 "mark":{"type":"point","filled":false,"stroke":"#000","strokeWidth":4,"strokeDash":[12,7],"opacity":1,"size":10404,"shape":"M-0.765,0A0.765,1,0,1,1,0.765,0A0.765,1,0,1,1,-0.765,0Z"},
 "encoding":{"x":{"field":"d","type":"temporal"},"y":{"field":"v","type":"quantitative"}}},
{"data":{"name":"rings"},"transform":[{"filter":{"field":"k","equal":"A"}}],
 "mark":{"type":"point","filled":false,"stroke":"#000","strokeWidth":4,"strokeDash":[12,7],"opacity":1,"size":9216,"shape":"M-0.917,0A0.917,1,0,1,1,0.917,0A0.917,1,0,1,1,-0.917,0Z"},
 "encoding":{"x":{"field":"d","type":"temporal"},"y":{"field":"v","type":"quantitative"}}},
{"data":{"name":"tags"},
 "mark":{"type":"text","font":"Liberation Sans","fontSize":19,"fontWeight":"bold","color":"#111","align":"center","baseline":"middle"},
 "encoding":{"x":{"field":"d","type":"temporal"},"y":{"field":"v","type":"quantitative"},"text":{"field":"t"}}}
]
}
